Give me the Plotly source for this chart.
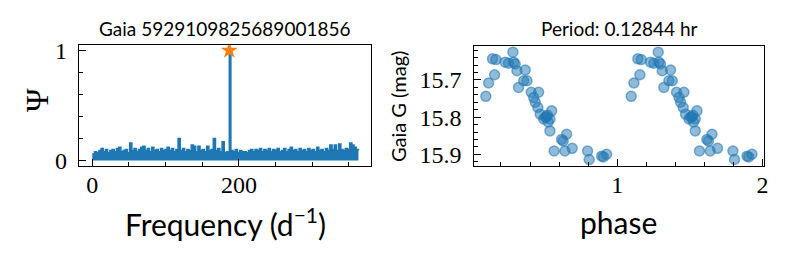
import numpy as np
import plotly.graph_objects as go

# ---------------- data ----------------
# Periodogram (upper envelope of the dense noise band), frequency step 3 d^-1
freq_grid = np.arange(0, 364, 3)
power_env = [
    0.06, 0.08, 0.07, 0.09, 0.11, 0.08, 0.10, 0.07, 0.09, 0.10,
    0.08, 0.11, 0.12, 0.08, 0.09, 0.10, 0.07, 0.16, 0.09, 0.11,
    0.08, 0.10, 0.12, 0.13, 0.09, 0.11, 0.08, 0.12, 0.09, 0.10,
    0.08, 0.11, 0.09, 0.10, 0.12, 0.09, 0.11, 0.08, 0.10, 0.20,
    0.09, 0.11, 0.08, 0.10, 0.09, 0.14, 0.13, 0.08, 0.13, 0.09,
    0.10, 0.08, 0.13, 0.09, 0.10, 0.20, 0.09, 0.11, 0.08, 0.17,
    0.07, 0.08, 0.07, 0.09, 0.08, 0.10, 0.07, 0.09, 0.08, 0.08,
    0.07, 0.09, 0.10, 0.08, 0.10, 0.09, 0.11, 0.08, 0.10, 0.09,
    0.11, 0.08, 0.10, 0.09, 0.11, 0.08, 0.09, 0.11, 0.08, 0.10,
    0.12, 0.09, 0.10, 0.08, 0.11, 0.09, 0.10, 0.08, 0.11, 0.09,
    0.10, 0.08, 0.12, 0.09, 0.10, 0.08, 0.11, 0.09, 0.14, 0.10,
    0.14, 0.09, 0.15, 0.10, 0.09, 0.11, 0.10, 0.16, 0.14, 0.12,
    0.10, 0.09,
]
peak_freq = 24 / 0.12844   # d^-1
peak_power = 1.0

# Folded light curve (one cycle; plotted twice)
phase = [0.096, 0.115, 0.156, 0.142, 0.165, 0.229, 0.252, 0.282, 0.287, 0.298,
         0.310, 0.367, 0.321, 0.356, 0.379, 0.408, 0.459, 0.425, 0.436, 0.454,
         0.470, 0.494, 0.514, 0.549, 0.537, 0.525, 0.505, 0.520, 0.537, 0.566,
         0.652, 0.628, 0.617, 0.640, 0.690, 0.796, 0.807, 0.893, 0.927, 0.905]
mag = [15.744, 15.708, 15.686, 15.643, 15.645, 15.652, 15.655, 15.625, 15.652, 15.657,
       15.675, 15.673, 15.720, 15.702, 15.702, 15.733, 15.733, 15.747, 15.760, 15.774,
       15.792, 15.805, 15.799, 15.783, 15.805, 15.813, 15.800, 15.795, 15.837, 15.891,
       15.846, 15.864, 15.860, 15.891, 15.884, 15.891, 15.914, 15.905, 15.900, 15.907]

title_left = "Gaia 5929109825689001856"
title_right = "Period: 0.12844 hr"

# ---------------- figure ----------------
W, H = 789, 263
BLUE = "#1f77b4"
ORANGE = "#ff7f0e"
SANS = "Lato"
SERIF = "Liberation Serif"

pos = int(np.searchsorted(freq_grid, peak_freq))
fx = np.insert(freq_grid.astype(float), pos, peak_freq)
fy = np.insert(np.array(power_env), pos, peak_power)

fig = go.Figure()
fig.add_trace(go.Scatter(x=fx, y=fy, mode="lines", line=dict(color=BLUE, width=1.5, shape="hv"),
                         fill="tozeroy", fillcolor=BLUE, xaxis="x", yaxis="y", showlegend=False))
fig.add_trace(go.Scatter(x=[peak_freq], y=[peak_power], mode="markers",
                         marker=dict(symbol="star", size=13, color=ORANGE, line=dict(width=0)),
                         xaxis="x", yaxis="y", showlegend=False))

ph = np.array(phase)
mg = np.array(mag)
fig.add_trace(go.Scatter(x=np.concatenate([ph, ph + 1]), y=np.concatenate([mg, mg]), mode="markers",
                         marker=dict(size=10, color="rgba(31,119,180,0.5)",
                                     line=dict(color="rgba(31,119,180,0.55)", width=1.5)),
                         xaxis="x2", yaxis="y2", showlegend=False))

def px_x(p):
    return p / W

def px_y(p):
    return 1 - p / H

tickfont = dict(family=SERIF, size=24, color="black")
common = dict(showgrid=False, zeroline=False, showline=True, linecolor="black", linewidth=1.2,
              mirror=True, ticks="inside", ticklen=7, tickwidth=1.2, tickcolor="black",
              tickfont=tickfont, automargin=False)

fig.update_layout(
    width=W, height=H, margin=dict(l=0, r=0, t=0, b=0, autoexpand=False),
    paper_bgcolor="white", plot_bgcolor="white",
    xaxis=dict(domain=[px_x(79), px_x(371)], range=[-18.1, 380.1], anchor="y",
               tick0=0, dtick=200, ticklabelstandoff=-3,
               minor=dict(ticks="inside", ticklen=4, dtick=50, tickcolor="black", tickwidth=1), **common),
    yaxis=dict(domain=[px_y(166), px_y(45)], range=[-0.05, 1.05], anchor="x",
               tick0=0, dtick=1, ticklabelstandoff=6,
               minor=dict(ticks="inside", ticklen=4, dtick=0.2, tickcolor="black", tickwidth=1), **common),
    xaxis2=dict(domain=[px_x(473.5), px_x(764)], range=[0.011, 2.01], anchor="y2",
                tick0=0, dtick=1, ticklabelstandoff=-3,
                minor=dict(ticks="inside", ticklen=4, dtick=0.2, tickcolor="black", tickwidth=1), **common),
    yaxis2=dict(domain=[px_y(166), px_y(46)], range=[15.9315, 15.6085], anchor="x2",
                tick0=15.7, dtick=0.1, tickformat=".1f", ticklabelstandoff=6,
                minor=dict(ticks="inside", ticklen=4, dtick=0.02, tickcolor="black", tickwidth=1), **common),
)

ann = [
    dict(text=title_left, x=px_x(224.5), y=px_y(28), font=dict(family=SANS, size=19)),
    dict(text=title_right, x=px_x(619), y=px_y(28), font=dict(family=SANS, size=19)),
    dict(text="Ψ", x=px_x(37), y=px_y(100), textangle=-90, font=dict(family=SERIF, size=32)),
    dict(text="Gaia G (mag)", x=px_x(398), y=px_y(106), textangle=-90, font=dict(family=SANS, size=20)),
    dict(text="Frequency (d<sup>−1</sup>)", x=px_x(225), y=px_y(222), font=dict(family=SANS, size=30)),
    dict(text="phase", x=px_x(618), y=px_y(222), font=dict(family=SANS, size=30)),
]
for a in ann:
    a.update(xref="paper", yref="paper", showarrow=False, xanchor="center", yanchor="middle")
    a["font"]["color"] = "black"
fig.update_layout(annotations=ann)

fig.write_html("out.html", config={"displayModeBar": False},
               post_script="document.body.style.margin='0';document.body.style.overflow='hidden';")
